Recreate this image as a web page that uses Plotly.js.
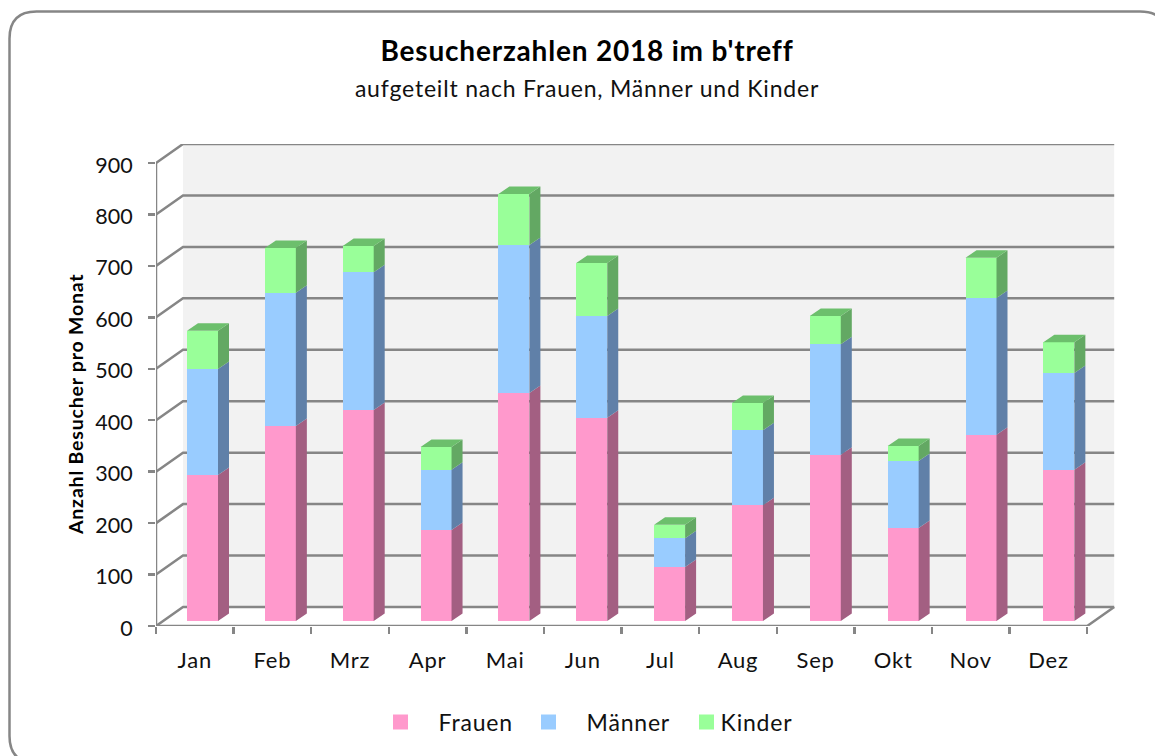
<!DOCTYPE html>
<html>
<head>
<meta charset="utf-8">
<script src="https://cdn.plot.ly/plotly-3.0.1.min.js"></script>
<style>
html,body{margin:0;padding:0;background:#fff;}
#chart text{letter-spacing:0.8px;}
#chart .ytick text{letter-spacing:0;translate:0 2px;}
</style>
</head>
<body>
<div id="chart" style="width:1155px;height:756px;"></div>
<script>
const months = ['Jan','Feb','Mrz','Apr','Mai','Jun','Jul','Aug','Sep','Okt','Nov','Dez'];
const frauen = [284,379,410,177,443,395,105,225,323,181,362,294];
const maenner = [206,259,268,117,288,198,56,146,215,130,266,188];
const kinder = [74,87,51,44,99,103,26,53,55,29,78,60];
const yTicks = [0,100,200,300,400,500,600,700,800,900];
const seriesNames = ['Frauen','Männer','Kinder'];
const seriesColors = ['#FF99CC','#99CCFF','#99FF99'];
const sideColors = ['#A35F82','#6080A8','#63A863'];
const topColor = '#6CBF6C';
const axisColor = '#868686';
const textFont = 'Lato, "Open Sans", sans-serif';

// canvas geometry
const W = 1155, H = 756;
const m = {l:156, r:39, t:144, b:130};
const pxPerCat = 77.6, pxPerUnit = 463/900;
const xRange = [-0.5, -0.5 + (W-m.l-m.r)/pxPerCat];
const yRange = [0, (H-m.t-m.b)/pxPerUnit];
const wallDX = 27/pxPerCat, wallDY = 19/pxPerUnit;
const barBase = 5/pxPerUnit;
// the bars sit on their own plane, with a slightly wider pitch than the tick slots
const barPitch = 77.85, barCentre0 = 202.5;
const x2Range = [(m.l-barCentre0)/barPitch, (W-m.r-barCentre0)/barPitch];
const barW = 31/barPitch, barOff = -barW/2;
const sideDX = 11/barPitch, sideDY = 7.5/pxPerUnit;

// walls & gridlines, in axis units
const gx = [], gy = [];
yTicks.forEach(v => {
  gx.push(-0.5, -0.5+wallDX, 11.5+wallDX, null);
  gy.push(v, v+wallDY, v+wallDY, null);
});
const traces = [];
traces.push({type:'scatter', mode:'lines', x:gx, y:gy, xaxis:'x', yaxis:'y', hoverinfo:'skip', showlegend:false,
  line:{color:axisColor, width:2.5}});
traces.push({type:'scatter', mode:'lines', xaxis:'x', yaxis:'y', hoverinfo:'skip', showlegend:false,
  x:[-0.5,-0.5,null,-0.5,11.5,11.5+wallDX],
  y:[900,0,null,0,0,wallDY], line:{color:axisColor, width:2.5}});

// front faces of the bars
const series = [frauen, maenner, kinder];
series.forEach((vals,i) => traces.push({type:'bar', name:seriesNames[i], x:months.map((_,k)=>k), y:vals,
  width:barW, offset:barOff, xaxis:'x2', yaxis:'y2', showlegend:false,
  marker:{color:seriesColors[i], line:{width:0}}}));

// side and top faces derived from the stacks
const cum = months.map(()=>0);
series.forEach((vals,i) => {
  const sx=[], sy=[];
  vals.forEach((v,k) => {
    const x1 = k+barOff+barW, b = cum[k], t = b+v;
    sx.push(x1,x1+sideDX,x1+sideDX,x1,null);
    sy.push(b,b+sideDY,t+sideDY,t,null);
    cum[k] = t;
  });
  traces.push({type:'scatter', mode:'lines', x:sx, y:sy, fill:'toself', fillcolor:sideColors[i],
    line:{width:0, color:sideColors[i]}, xaxis:'x2', yaxis:'y2', hoverinfo:'skip', showlegend:false});
});
const tx=[], ty=[];
cum.forEach((t,k) => {
  const x0 = k+barOff, x1 = x0+barW;
  tx.push(x0,x0+sideDX,x1+sideDX,x1,null);
  ty.push(t,t+sideDY,t+sideDY,t,null);
});
traces.push({type:'scatter', mode:'lines', x:tx, y:ty, fill:'toself', fillcolor:topColor,
  line:{width:0, color:topColor}, xaxis:'x2', yaxis:'y2', hoverinfo:'skip', showlegend:false});

// pixel helpers for page furniture
const pw = W-m.l-m.r, ph = H-m.t-m.b;
const px = v => (v-m.l)/pw, py = v => (H-m.b-v)/ph;

const bl=9.5, bt=11.5, br=1167, bb=763, rad=27;
const q = (cx,cy,ex,ey) => `Q${px(cx)},${py(cy)} ${px(ex)},${py(ey)}`;
const frame = `M${px(bl)},${py(bt+rad)} ${q(bl,bt,bl+rad,bt)} L${px(br-rad)},${py(bt)} ${q(br,bt,br,bt+rad)} L${px(br)},${py(bb-rad)} ${q(br,bb,br-rad,bb)} L${px(bl+rad)},${py(bb)} ${q(bl,bb,bl,bb-rad)} Z`;

const legendSwatchX = [393,541,699];
const legendTextX = [439,587,721];
const legendY = 722;

const shapes = [
  {type:'rect', layer:'below', xref:'x', yref:'y', x0:-0.5+wallDX, x1:11.5+wallDX, y0:wallDY, y1:900+wallDY,
    fillcolor:'#F2F2F2', line:{width:0}},
  {type:'path', xref:'paper', yref:'paper', path:frame, line:{color:axisColor, width:2.5}, layer:'above'}
];
legendSwatchX.forEach((x,i)=>shapes.push({type:'rect', xref:'paper', yref:'paper',
  x0:px(x), x1:px(x+15), y0:py(legendY+7.5), y1:py(legendY-7.5), fillcolor:seriesColors[i], line:{width:0}}));

const annotations = seriesNames.map((n,i)=>({text:n, xref:'paper', yref:'paper', x:px(legendTextX[i]), y:py(legendY),
  xanchor:'left', yanchor:'middle', showarrow:false, font:{family:textFont, size:23, color:'#111'}}));
annotations.push({text:'<b>Anzahl Besucher pro Monat</b>', textangle:-90, xref:'paper', yref:'paper', x:px(75), y:py(404),
  xanchor:'center', yanchor:'middle', showarrow:false, font:{family:textFont, size:19.5, color:'#000'}});

const layout = {
  width:W, height:H, autosize:false, margin:m, paper_bgcolor:'#fff', plot_bgcolor:'rgba(0,0,0,0)',
  barmode:'stack', showlegend:false, hovermode:false,
  title:{text:"<b>Besucherzahlen 2018 im b'treff</b><br><span style=\"font-size:23px;color:#111\">aufgeteilt nach Frauen, Männer und Kinder</span>",
    x:587/W, xanchor:'center', y:1-61/H, yanchor:'top',
    font:{family:textFont, size:28, color:'#000'}},
  xaxis:{range:xRange, fixedrange:true, showgrid:false, zeroline:false, showline:false,
    tickmode:'array', tickvals:months.map((_,k)=>k), ticktext:months, ticks:'outside', ticklen:1, tickcolor:'rgba(0,0,0,0)',
    ticklabelstandoff:14,
    tickfont:{family:textFont, size:22, color:'#111'},
    minor:{tickmode:'array', tickvals:months.map((_,k)=>k-0.5).concat([11.5]), ticks:'outside', ticklen:7, tickcolor:axisColor, tickwidth:2.5, showgrid:false}},
  xaxis2:{overlaying:'x', visible:false, fixedrange:true, range:x2Range},
  yaxis:{range:yRange, fixedrange:true, showgrid:false, zeroline:false, showline:false,
    tickmode:'array', tickvals:yTicks, ticks:'outside', ticklen:7, tickcolor:axisColor, tickwidth:2.5,
    ticklabelstandoff:11,
    tickfont:{family:textFont, size:21.5, color:'#111'}},
  yaxis2:{overlaying:'y', side:'left', visible:false, fixedrange:true, range:[yRange[0]-barBase, yRange[1]-barBase]},
  shapes, annotations
};
Plotly.newPlot('chart', traces, layout, {displayModeBar:false, staticPlot:true});
</script>
</body>
</html>
